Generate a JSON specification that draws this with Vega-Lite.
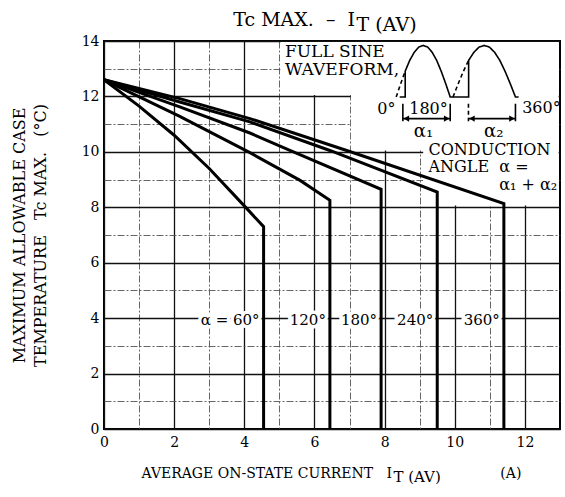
{
  "$schema": "https://vega.github.io/schema/vega-lite/v6.json",
  "width": 456,
  "height": 388,
  "autosize": {"type": "none"},
  "padding": {"left": 104, "top": 41, "right": 5, "bottom": 68},
  "background": "white",
  "config": {
    "font": "DejaVu Serif",
    "view": {"stroke": "#000", "strokeWidth": 2},
    "text": {"font": "DejaVu Serif", "color": "#000"}
  },
  "resolve": {"axis": {"x": "independent", "y": "independent"}},
  "datasets": {
    "curves": [
      {"series": "α = 60°", "i": 0, "current": 0, "temp": 12.6},
      {"series": "α = 60°", "i": 1, "current": 1, "temp": 11.65},
      {"series": "α = 60°", "i": 2, "current": 2, "temp": 10.6},
      {"series": "α = 60°", "i": 3, "current": 3, "temp": 9.4},
      {"series": "α = 60°", "i": 4, "current": 4, "temp": 8.05},
      {"series": "α = 60°", "i": 5, "current": 4.55, "temp": 7.3},
      {"series": "α = 60°", "i": 6, "current": 4.55, "temp": 0},
      {"series": "120°", "i": 0, "current": 0, "temp": 12.6},
      {"series": "120°", "i": 1, "current": 2.16, "temp": 11.28},
      {"series": "120°", "i": 2, "current": 4.16, "temp": 9.97},
      {"series": "120°", "i": 3, "current": 5.59, "temp": 8.97},
      {"series": "120°", "i": 4, "current": 6.44, "temp": 8.25},
      {"series": "120°", "i": 5, "current": 6.44, "temp": 0},
      {"series": "180°", "i": 0, "current": 0, "temp": 12.6},
      {"series": "180°", "i": 1, "current": 2.16, "temp": 11.62},
      {"series": "180°", "i": 2, "current": 4.16, "temp": 10.68},
      {"series": "180°", "i": 3, "current": 5.3, "temp": 10.05},
      {"series": "180°", "i": 4, "current": 7.9, "temp": 8.65},
      {"series": "180°", "i": 5, "current": 7.9, "temp": 0},
      {"series": "240°", "i": 0, "current": 0, "temp": 12.6},
      {"series": "240°", "i": 1, "current": 2.16, "temp": 11.8},
      {"series": "240°", "i": 2, "current": 4.16, "temp": 11.08},
      {"series": "240°", "i": 3, "current": 6.44, "temp": 10.05},
      {"series": "240°", "i": 4, "current": 9.5, "temp": 8.55},
      {"series": "240°", "i": 5, "current": 9.5, "temp": 0},
      {"series": "360°", "i": 0, "current": 0, "temp": 12.6},
      {"series": "360°", "i": 1, "current": 2.16, "temp": 11.92},
      {"series": "360°", "i": 2, "current": 4.16, "temp": 11.2},
      {"series": "360°", "i": 3, "current": 6.92, "temp": 10.05},
      {"series": "360°", "i": 4, "current": 11.4, "temp": 8.13},
      {"series": "360°", "i": 5, "current": 11.4, "temp": 0}
    ],
    "wave": [
      {"seg": "s1", "line": "solid", "i": 0, "x": 8.43, "y": 11.98},
      {"seg": "s1", "line": "solid", "i": 1, "x": 8.587, "y": 11.98},
      {"seg": "s1", "line": "solid", "i": 2, "x": 8.587, "y": 12.91},
      {"seg": "s1", "line": "solid", "i": 3, "x": 8.715, "y": 13.30},
      {"seg": "s1", "line": "solid", "i": 4, "x": 8.843, "y": 13.59},
      {"seg": "s1", "line": "solid", "i": 5, "x": 8.972, "y": 13.78},
      {"seg": "s1", "line": "solid", "i": 6, "x": 9.10, "y": 13.84},
      {"seg": "s1", "line": "solid", "i": 7, "x": 9.228, "y": 13.78},
      {"seg": "s1", "line": "solid", "i": 8, "x": 9.357, "y": 13.59},
      {"seg": "s1", "line": "solid", "i": 9, "x": 9.485, "y": 13.30},
      {"seg": "s1", "line": "solid", "i": 10, "x": 9.613, "y": 12.91},
      {"seg": "s1", "line": "solid", "i": 11, "x": 9.742, "y": 12.46},
      {"seg": "s1", "line": "solid", "i": 12, "x": 9.87, "y": 11.98},
      {"seg": "s1", "line": "solid", "i": 13, "x": 10.395, "y": 11.98},
      {"seg": "s1", "line": "solid", "i": 14, "x": 10.395, "y": 13.30},
      {"seg": "s1", "line": "solid", "i": 15, "x": 10.543, "y": 13.59},
      {"seg": "s1", "line": "solid", "i": 16, "x": 10.692, "y": 13.78},
      {"seg": "s1", "line": "solid", "i": 17, "x": 10.84, "y": 13.84},
      {"seg": "s1", "line": "solid", "i": 18, "x": 10.988, "y": 13.78},
      {"seg": "s1", "line": "solid", "i": 19, "x": 11.137, "y": 13.59},
      {"seg": "s1", "line": "solid", "i": 20, "x": 11.285, "y": 13.30},
      {"seg": "s1", "line": "solid", "i": 21, "x": 11.433, "y": 12.91},
      {"seg": "s1", "line": "solid", "i": 22, "x": 11.582, "y": 12.46},
      {"seg": "s1", "line": "solid", "i": 23, "x": 11.73, "y": 11.98},
      {"seg": "s1", "line": "solid", "i": 24, "x": 11.82, "y": 11.98},
      {"seg": "d1", "line": "dashed", "i": 0, "x": 8.33, "y": 11.98},
      {"seg": "d1", "line": "dashed", "i": 1, "x": 8.458, "y": 12.46},
      {"seg": "d1", "line": "dashed", "i": 2, "x": 8.587, "y": 12.91},
      {"seg": "d2", "line": "dashed", "i": 0, "x": 9.95, "y": 11.98},
      {"seg": "d2", "line": "dashed", "i": 1, "x": 10.098, "y": 12.46},
      {"seg": "d2", "line": "dashed", "i": 2, "x": 10.247, "y": 12.91},
      {"seg": "d2", "line": "dashed", "i": 3, "x": 10.395, "y": 13.30},
      {"seg": "t1", "line": "solid", "i": 0, "x": 8.52, "y": 11.74},
      {"seg": "t1", "line": "solid", "i": 1, "x": 8.52, "y": 11.1},
      {"seg": "t2", "line": "solid", "i": 0, "x": 9.87, "y": 11.74},
      {"seg": "t2", "line": "solid", "i": 1, "x": 9.87, "y": 11.1},
      {"seg": "t3", "line": "dashed", "i": 0, "x": 10.39, "y": 11.74},
      {"seg": "t3", "line": "dashed", "i": 1, "x": 10.39, "y": 11.1},
      {"seg": "t4", "line": "solid", "i": 0, "x": 11.73, "y": 11.74},
      {"seg": "t4", "line": "solid", "i": 1, "x": 11.73, "y": 11.1},
      {"seg": "a1", "line": "solid", "i": 0, "x": 8.52, "y": 11.2},
      {"seg": "a1", "line": "solid", "i": 1, "x": 9.87, "y": 11.2},
      {"seg": "a2", "line": "solid", "i": 0, "x": 10.39, "y": 11.2},
      {"seg": "a2", "line": "solid", "i": 1, "x": 11.73, "y": 11.2}
    ],
    "arrows": [
      {"dir": "left", "x": 8.62, "y": 11.2},
      {"dir": "right", "x": 9.77, "y": 11.2},
      {"dir": "left", "x": 10.49, "y": 11.2},
      {"dir": "right", "x": 11.63, "y": 11.2}
    ]
  },
  "layer": [
    {
      "data": {"values": [{}]},
      "mark": {"type": "rect", "fill": "white"},
      "encoding": {
        "x": {"datum": 5.04, "type": "quantitative", "axis": null},
        "x2": {"datum": 12.96},
        "y": {"datum": 12.05, "type": "quantitative", "axis": null},
        "y2": {"datum": 13.96}
      }
    },
    {
      "data": {"values": [{}]},
      "mark": {"type": "rect", "fill": "white"},
      "encoding": {
        "x": {"datum": 7.04, "type": "quantitative", "axis": null},
        "x2": {"datum": 12.96},
        "y": {"datum": 10.05, "type": "quantitative", "axis": null},
        "y2": {"datum": 12.1}
      }
    },
    {
      "data": {"values": [{}]},
      "mark": {"type": "rect", "fill": "white"},
      "encoding": {
        "x": {"datum": 9.1, "type": "quantitative", "axis": null},
        "x2": {"datum": 12.96},
        "y": {"datum": 8.06, "type": "quantitative", "axis": null},
        "y2": {"datum": 10.1}
      }
    },
    {
      "data": {"name": "curves"},
      "transform": [{"filter": "datum.temp == 0"}],
      "mark": {"type": "text", "align": "right", "baseline": "middle", "dx": -4, "fontSize": 15, "fill": "white", "stroke": "white", "strokeWidth": 7},
      "encoding": {
        "x": {"field": "current", "type": "quantitative", "axis": null},
        "y": {"datum": 3.95, "type": "quantitative", "axis": null},
        "text": {"field": "series"}
      }
    },
    {
      "data": {"name": "curves"},
      "mark": {"type": "line", "color": "#000", "strokeWidth": 3, "strokeJoin": "miter"},
      "encoding": {
        "x": {
          "field": "current",
          "type": "quantitative",
          "scale": {"domain": [0, 13], "nice": false, "zero": false},
          "axis": {
            "values": [0, 1, 2, 3, 4, 5, 6, 7, 8, 9, 10, 11, 12],
            "labelExpr": "datum.value % 2 == 0 ? datum.label : ''",
            "ticks": false,
            "domain": false,
            "labelFont": "DejaVu Serif",
            "labelFontSize": 14,
            "labelColor": "#000",
            "labelPadding": 6,
            "labelOverlap": false,
            "labelFlush": false,
            "title": null,
            "grid": true,
            "gridColor": {"condition": {"test": "datum.value % 2 == 1", "value": "#555"}, "value": "#111"},
            "gridWidth": {"condition": {"test": "datum.value % 2 == 1", "value": 0.9}, "value": 1.3},
            "gridDash": {"condition": {"test": "datum.value % 2 == 1", "value": [7, 2, 2, 2]}, "value": []}
          }
        },
        "y": {
          "field": "temp",
          "type": "quantitative",
          "scale": {"domain": [0, 14], "nice": false, "zero": false},
          "axis": {
            "values": [0, 1, 2, 3, 4, 5, 6, 7, 8, 9, 10, 11, 12, 13, 14],
            "labelExpr": "datum.value % 2 == 0 ? datum.label : ''",
            "ticks": false,
            "domain": false,
            "labelFont": "DejaVu Serif",
            "labelFontSize": 14,
            "labelColor": "#000",
            "labelPadding": 5,
            "labelOverlap": false,
            "labelFlush": false,
            "grid": true,
            "gridColor": {"condition": {"test": "datum.value % 2 == 1", "value": "#555"}, "value": "#111"},
            "gridWidth": {"condition": {"test": "datum.value % 2 == 1", "value": 0.9}, "value": 1.5},
            "gridDash": {"condition": {"test": "datum.value % 2 == 1", "value": [7, 2, 2, 2]}, "value": []},
            "title": ["MAXIMUM ALLOWABLE CASE", "TEMPERATURE\u00a0\u00a0\u00a0Tc MAX.\u00a0\u00a0\u00a0(°C)"],
            "titleFont": "DejaVu Serif",
            "titleFontSize": 16,
            "titleFontWeight": "normal",
            "titleColor": "#000",
            "titleAngle": -90,
            "titleAlign": "center",
            "titleBaseline": "middle",
            "titleLineHeight": 21,
            "titleX": -85,
            "titleY": 194
          }
        },
        "detail": {"field": "series"},
        "order": {"field": "i"}
      }
    },
    {
      "data": {"name": "curves"},
      "transform": [{"filter": "datum.temp == 0"}],
      "mark": {"type": "text", "align": "right", "baseline": "middle", "dx": -4, "fontSize": 15, "color": "#000"},
      "encoding": {
        "x": {"field": "current", "type": "quantitative", "axis": null},
        "y": {"datum": 3.95, "type": "quantitative", "axis": null},
        "text": {"field": "series"}
      }
    },
    {
      "data": {"name": "wave"},
      "mark": {"type": "line", "color": "#000", "strokeWidth": 1.6},
      "encoding": {
        "x": {"field": "x", "type": "quantitative", "axis": null},
        "y": {"field": "y", "type": "quantitative", "axis": null},
        "detail": {"field": "seg"},
        "order": {"field": "i"},
        "strokeDash": {"field": "line", "type": "nominal", "scale": {"domain": ["solid", "dashed"], "range": [[1, 0], [4, 3]]}, "legend": null}
      }
    },
    {
      "data": {"name": "arrows"},
      "mark": {"type": "point", "filled": true, "color": "#000", "size": 40, "opacity": 1},
      "encoding": {
        "x": {"field": "x", "type": "quantitative", "axis": null},
        "y": {"field": "y", "type": "quantitative", "axis": null},
        "shape": {"field": "dir", "type": "nominal", "scale": {"domain": ["left", "right"], "range": ["triangle-left", "triangle-right"]}, "legend": null}
      }
    },
    {
      "data": {"values": [{}]},
      "mark": {"type": "text", "text": "FULL SINE", "align": "left", "baseline": "middle", "fontSize": 17},
      "encoding": {"x": {"datum": 5.16, "type": "quantitative", "axis": null}, "y": {"datum": 13.6, "type": "quantitative", "axis": null}}
    },
    {
      "data": {"values": [{}]},
      "mark": {"type": "text", "text": "WAVEFORM,", "align": "left", "baseline": "middle", "fontSize": 17},
      "encoding": {"x": {"datum": 5.16, "type": "quantitative", "axis": null}, "y": {"datum": 12.94, "type": "quantitative", "axis": null}}
    },
    {
      "data": {"values": [{}]},
      "mark": {"type": "text", "text": "0°", "align": "center", "baseline": "middle", "fontSize": 16},
      "encoding": {"x": {"datum": 8.05, "type": "quantitative", "axis": null}, "y": {"datum": 11.56, "type": "quantitative", "axis": null}}
    },
    {
      "data": {"values": [{}]},
      "mark": {"type": "text", "text": "180°", "align": "center", "baseline": "middle", "fontSize": 16},
      "encoding": {"x": {"datum": 9.25, "type": "quantitative", "axis": null}, "y": {"datum": 11.55, "type": "quantitative", "axis": null}}
    },
    {
      "data": {"values": [{}]},
      "mark": {"type": "text", "text": "360°", "align": "center", "baseline": "middle", "fontSize": 16},
      "encoding": {"x": {"datum": 12.47, "type": "quantitative", "axis": null}, "y": {"datum": 11.58, "type": "quantitative", "axis": null}}
    },
    {
      "data": {"values": [{}]},
      "mark": {"type": "text", "text": "α₁", "align": "center", "baseline": "middle", "fontSize": 18},
      "encoding": {"x": {"datum": 9.11, "type": "quantitative", "axis": null}, "y": {"datum": 10.72, "type": "quantitative", "axis": null}}
    },
    {
      "data": {"values": [{}]},
      "mark": {"type": "text", "text": "α₂", "align": "center", "baseline": "middle", "fontSize": 18},
      "encoding": {"x": {"datum": 11.11, "type": "quantitative", "axis": null}, "y": {"datum": 10.72, "type": "quantitative", "axis": null}}
    },
    {
      "data": {"values": [{}]},
      "mark": {"type": "text", "text": "CONDUCTION", "align": "left", "baseline": "middle", "fontSize": 16},
      "encoding": {"x": {"datum": 9.25, "type": "quantitative", "axis": null}, "y": {"datum": 10.06, "type": "quantitative", "axis": null}}
    },
    {
      "data": {"values": [{}]},
      "mark": {"type": "text", "text": "ANGLE\u00a0\u00a0α =", "align": "left", "baseline": "middle", "fontSize": 16},
      "encoding": {"x": {"datum": 9.25, "type": "quantitative", "axis": null}, "y": {"datum": 9.44, "type": "quantitative", "axis": null}}
    },
    {
      "data": {"values": [{}]},
      "mark": {"type": "text", "text": "α₁ + α₂", "align": "right", "baseline": "middle", "fontSize": 16},
      "encoding": {"x": {"datum": 12.92, "type": "quantitative", "axis": null}, "y": {"datum": 8.82, "type": "quantitative", "axis": null}}
    },
    {
      "data": {"values": [{}]},
      "mark": {"type": "text", "text": "Tc MAX.\u00a0\u00a0–\u00a0\u00a0I", "align": "right", "baseline": "alphabetic", "fontSize": 19},
      "encoding": {"x": {"datum": 7.157, "type": "quantitative", "axis": null}, "y": {"datum": 14.53, "type": "quantitative", "axis": null}}
    },
    {
      "data": {"values": [{}]},
      "mark": {"type": "text", "text": "T\u00a0(AV)", "align": "left", "baseline": "alphabetic", "fontSize": 19},
      "encoding": {"x": {"datum": 7.2, "type": "quantitative", "axis": null}, "y": {"datum": 14.36, "type": "quantitative", "axis": null}}
    },
    {
      "data": {"values": [{}]},
      "mark": {"type": "text", "text": "AVERAGE ON-STATE CURRENT\u00a0\u00a0\u00a0I", "align": "right", "baseline": "alphabetic", "fontSize": 14},
      "encoding": {"x": {"datum": 8.21, "type": "quantitative", "axis": null}, "y": {"datum": -1.75, "type": "quantitative", "axis": null}}
    },
    {
      "data": {"values": [{}]},
      "mark": {"type": "text", "text": "T\u00a0(AV)", "align": "left", "baseline": "alphabetic", "fontSize": 15},
      "encoding": {"x": {"datum": 8.25, "type": "quantitative", "axis": null}, "y": {"datum": -1.9, "type": "quantitative", "axis": null}}
    },
    {
      "data": {"values": [{}]},
      "mark": {"type": "text", "text": "(A)", "align": "left", "baseline": "alphabetic", "fontSize": 14},
      "encoding": {"x": {"datum": 11.3, "type": "quantitative", "axis": null}, "y": {"datum": -1.75, "type": "quantitative", "axis": null}}
    }
  ]
}
